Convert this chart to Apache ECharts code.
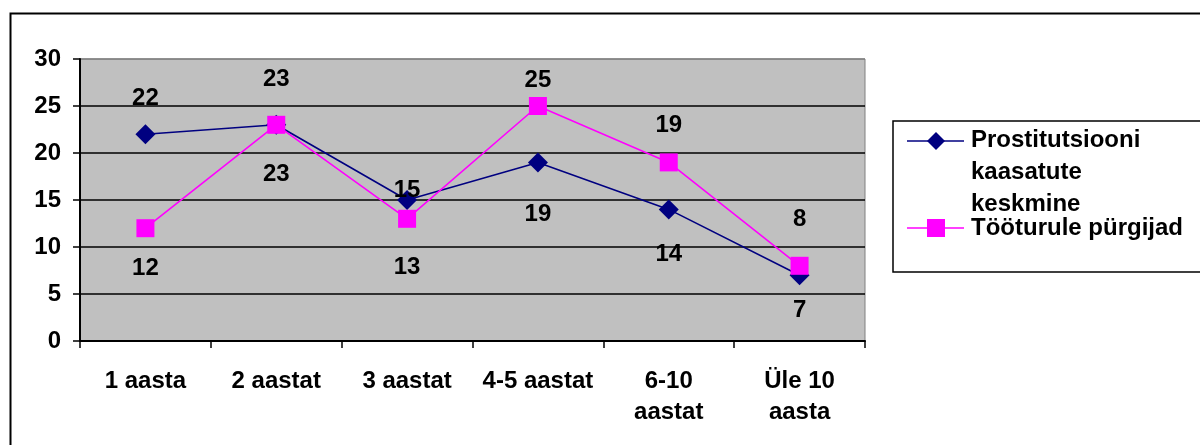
<!DOCTYPE html>
<html>
<head>
<meta charset="utf-8">
<script src="https://cdn.jsdelivr.net/npm/echarts@6/dist/echarts.min.js"></script>
<style>html,body{margin:0;padding:0;background:#fff}#c{width:1200px;height:445px}</style>
</head>
<body>
<div id="c"></div>
<script>
const categories = ['1 aasta', '2 aastat', '3 aastat', '4-5 aastat', '6-10\naastat', 'Üle 10\naasta'];
const seriesNames = ['Prostitutsiooni\nkaasatute\nkeskmine', 'Tööturule pürgijad'];
const prostitutsioon = [22, 23, 15, 19, 14, 7];
const tooturg = [12, 23, 13, 25, 19, 8];
const yTicks = [0, 5, 10, 15, 20, 25, 30];

// label vertical offsets (styling, px)
const labelDy1 = [-36, 50, -10, 52, 45, 35];
const labelDy2 = [40, -45, 49, -26, -37, -46];

const FONT = "'Liberation Sans', Arial, sans-serif";
const FS = 24;
const NAVY = '#000080', MAG = '#ff00ff';

function mk(vals, dys) {
  return vals.map((v, i) => ({
    value: v,
    label: { show: true, position: 'inside', offset: [0, dys[i]] }
  }));
}

const chart = echarts.init(document.getElementById('c'), null, { renderer: 'canvas' });
chart.setOption({
  animation: false,
  backgroundColor: '#fff',
  grid: { left: 80, top: 59, right: 335, bottom: 104, show: true, backgroundColor: '#c0c0c0', borderColor: '#808080', borderWidth: 1 },
  xAxis: {
    type: 'category', data: categories, boundaryGap: true,
    axisLine: { lineStyle: { color: '#000', width: 2 } },
    axisTick: { show: true, length: 7, lineStyle: { color: '#000', width: 1.5 } },
    axisLabel: { color: '#000', fontFamily: FONT, fontWeight: 'bold', fontSize: FS, lineHeight: 31, margin: 25, interval: 0 }
  },
  yAxis: {
    type: 'value', min: yTicks[0], max: yTicks[yTicks.length - 1], interval: 5,
    axisLine: { show: true, lineStyle: { color: '#000', width: 2 } },
    axisTick: { show: true, length: 7, lineStyle: { color: '#000', width: 1.5 } },
    axisLabel: { color: '#000', fontFamily: FONT, fontWeight: 'bold', fontSize: FS, margin: 19 },
    splitLine: { show: true, lineStyle: { color: ['#000', '#000', '#000', '#000', '#000', '#000', '#808080'], width: 1.5 } }
  },
  series: [
    {
      name: seriesNames[0], type: 'line', data: mk(prostitutsioon, labelDy1),
      symbol: 'diamond', symbolSize: 20,
      lineStyle: { color: NAVY, width: 1.6 }, itemStyle: { color: NAVY },
      label: { color: '#000', fontFamily: FONT, fontWeight: 'bold', fontSize: FS },
      z: 2
    },
    {
      name: seriesNames[1], type: 'line', data: mk(tooturg, labelDy2),
      symbol: 'rect', symbolSize: 18,
      lineStyle: { color: MAG, width: 1.6 }, itemStyle: { color: MAG },
      label: { color: '#000', fontFamily: FONT, fontWeight: 'bold', fontSize: FS },
      z: 3
    }
  ],
  graphic: [
    { type: 'rect', shape: { x: 10.5, y: 13.5, width: 1250, height: 500 }, style: { fill: null, stroke: '#000', lineWidth: 2 }, z: 0, silent: true },
    { type: 'rect', shape: { x: 893, y: 121, width: 400, height: 151 }, style: { fill: '#fff', stroke: '#000', lineWidth: 1.5 }, z: 10 },
    { type: 'line', shape: { x1: 907, y1: 141, x2: 964, y2: 141 }, style: { stroke: NAVY, lineWidth: 1.6 }, z: 11 },
    { type: 'polygon', shape: { points: [[936, 132], [945, 141], [936, 150], [927, 141]] }, style: { fill: NAVY }, z: 12 },
    { type: 'text', left: 971, top: 124, style: { text: seriesNames[0], font: 'bold ' + FS + 'px ' + FONT, fill: '#000', lineHeight: 32 }, z: 12 },
    { type: 'line', shape: { x1: 907, y1: 228, x2: 964, y2: 228 }, style: { stroke: MAG, lineWidth: 1.6 }, z: 11 },
    { type: 'rect', shape: { x: 927, y: 219, width: 18, height: 18 }, style: { fill: MAG }, z: 12 },
    { type: 'text', left: 971, top: 212, style: { text: seriesNames[1], font: 'bold ' + FS + 'px ' + FONT, fill: '#000', lineHeight: 32 }, z: 12 }
  ]
});
</script>
</body>
</html>
